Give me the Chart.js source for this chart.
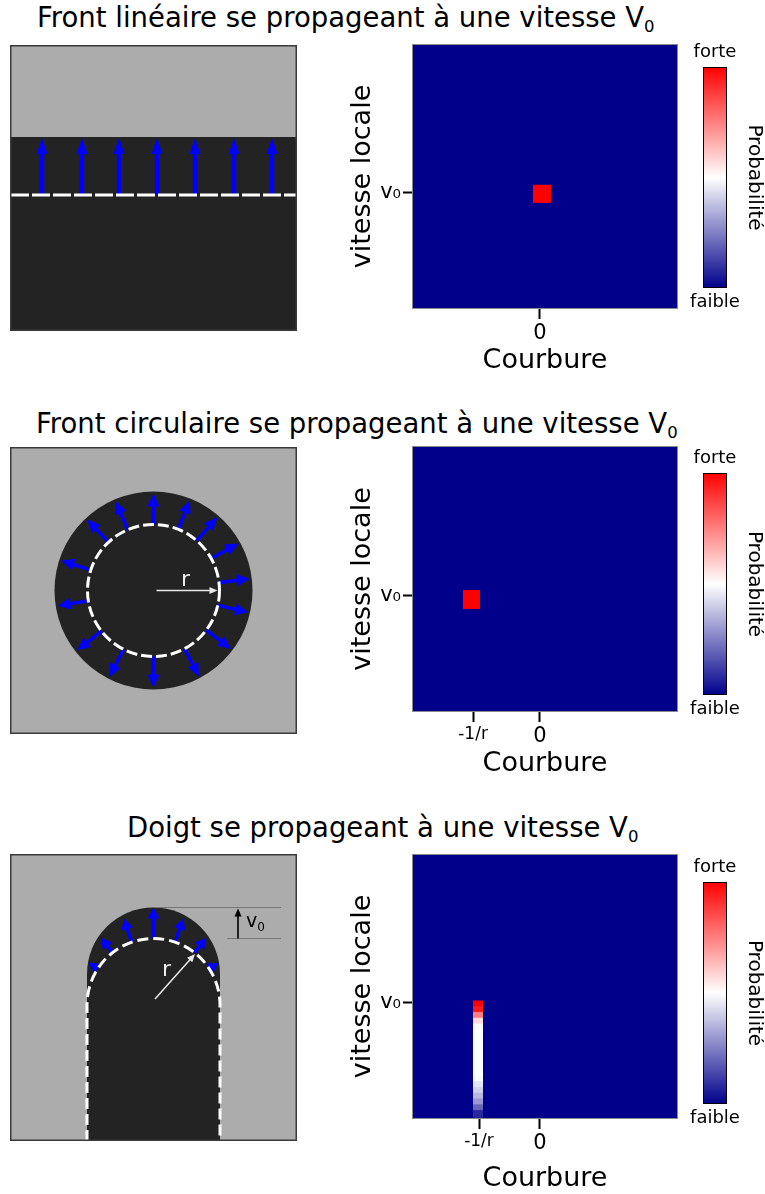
<!DOCTYPE html>
<html><head><meta charset="utf-8">
<script src="https://cdn.jsdelivr.net/npm/chart.js@4.4.0/dist/chart.umd.min.js"></script>
<style>
html,body{margin:0;padding:0;background:#fff;}
body{width:765px;height:1194px;overflow:hidden;position:relative;font-family:'DejaVu Sans',sans-serif;}
canvas{position:absolute;}
.t{position:absolute;font-size:27.5px;line-height:32px;white-space:nowrap;color:#000;}
.t sub{font-size:16.5px;vertical-align:-5px;line-height:0;}
.lab{position:absolute;white-space:nowrap;line-height:1;}
.lab sub{font-size:12px;vertical-align:-4px;line-height:0;}
</style></head><body>
<div class="t" style="left:37px;top:1px">Front linéaire se propageant à une vitesse V<sub>0</sub></div>
<div class="t" style="left:36px;top:407px">Front circulaire se propageant à une vitesse V<sub>0</sub></div>
<div class="t" style="left:127px;top:811px">Doigt se propageant à une vitesse V<sub>0</sub></div>

<canvas id="s1" width="287" height="286" style="left:10px;top:45px;width:287px;height:286px"></canvas>
<canvas id="s2" width="287" height="287" style="left:10px;top:447px;width:287px;height:287px"></canvas>
<canvas id="s3" width="287" height="287" style="left:10px;top:854px;width:287px;height:287px"></canvas>

<canvas id="h1" width="340" height="340" style="left:340px;top:40px;width:340px;height:340px"></canvas>
<canvas id="h2" width="340" height="340" style="left:340px;top:442px;width:340px;height:340px"></canvas>
<canvas id="h3" width="340" height="344" style="left:340px;top:850px;width:340px;height:344px"></canvas>

<canvas id="c1" width="84" height="276" style="left:680px;top:40px;width:84px;height:276px"></canvas>
<canvas id="c2" width="84" height="277" style="left:680px;top:446px;width:84px;height:277px"></canvas>
<canvas id="c3" width="84" height="277" style="left:680px;top:855px;width:84px;height:277px"></canvas>

<div class="lab" style="left:181px;top:568px;font-size:22px;color:#eee">r</div>
<div class="lab" style="left:162px;top:958px;font-size:22px;color:#eee">r</div>
<div class="lab" style="left:246px;top:911px;font-size:19px;color:#000">v<sub>0</sub></div>

<script>
// ---------- data ----------
const curvatureRange = [-1, 1.08];
const speedRange = [0, 2.28];
const speedTicks = [1];
const speedTickLabels = ['v₀'];

// Row 1 : linear front
const r1CurvTicks = [0];
const r1CurvTickLabels = ['0'];
const r1CellCurv = [0.016];
const r1CellLow = [0.92];
const r1CellHigh = [1.06];
const r1CellProb = [1.0];
const r1CurvBin = 0.142;

// Row 2 : circular front
const r2CurvTicks = [-0.527, 0];
const r2CurvTickLabels = ['-1/r', '0'];
const r2CellCurv = [-0.539];
const r2CellLow = [0.89];
const r2CellHigh = [1.036];
const r2CellProb = [1.0];
const r2CurvBin = 0.134;

// Row 3 : finger
const r3CurvTicks = [-0.48, 0];
const r3CurvTickLabels = ['-1/r', '0'];
const r3CellCurv = [-0.488,-0.488,-0.488,-0.488,-0.488,-0.488,-0.488,-0.488,-0.488,-0.488,
                    -0.488,-0.488,-0.488,-0.488,-0.488,-0.488,-0.488,-0.488,-0.488,-0.488];
const r3CellLow  = [0.96,0.91,0.86,0.81,0.76,0.71,0.66,0.61,0.56,0.51,0.46,0.41,0.36,0.31,0.26,0.21,0.16,0.11,0.06,0.01];
const r3CellHigh = [1.01,0.96,0.91,0.86,0.81,0.76,0.71,0.66,0.61,0.56,0.51,0.46,0.41,0.36,0.31,0.26,0.21,0.16,0.11,0.06];
const r3CellProb = [1.0,0.95,0.75,0.57,0.51,0.5,0.5,0.5,0.5,0.5,0.5,0.5,0.5,0.49,0.45,0.41,0.36,0.30,0.20,0.08];
const r3CurvBin = 0.079;

const colorbarStops = [0, 0.5, 1];

// schematic geometry (sketch units)
const lin = {interfaceY: 92, frontY: 150, tipY: 93, arrowX: [32, 72, 109, 147, 185, 224, 262]};
const circ = {cx: 143.5, cy: 143.5, outerR: 99, frontR: 66, tipR: 97,
  arrowAngles: [90, 68, 49, 29, 7, -13, -37, -62, -90, -117, -142, -171, 162, 133, 113]};
const fing = {cx: 143.5, halfW: 66.5, tipCy: 120, frontCy: 151,
  arrowAngles: [33, 52, 71, 90, 109, 128, 147], arrowLen: [11, 19, 25, 31, 25, 19, 11]};

// ---------- helpers ----------
const NAVY = [0, 0, 139], WHITE = [255, 255, 255], RED = [255, 0, 0];
function cmap(p) {
  const lo = p < 0.5, a = lo ? NAVY : WHITE, b = lo ? WHITE : RED, t = lo ? p / 0.5 : (p - 0.5) / 0.5;
  return 'rgb(' + a.map((v, i) => Math.round(v + (b[i] - v) * t)).join(',') + ')';
}
const FAM = "'DejaVu Sans', sans-serif";
Chart.defaults.font.family = FAM;
Chart.defaults.color = '#000';
const INFL = 1;

const noPad = s => { s.paddingTop = 0; s.paddingBottom = 0; s.paddingLeft = 0; s.paddingRight = 0; };

const heatFrame = {
  id: 'heatFrame',
  beforeDatasetsDraw(chart) {
    const {ctx, chartArea: a} = chart;
    ctx.save(); ctx.fillStyle = cmap(0); ctx.fillRect(a.left, a.top, a.width, a.height); ctx.restore();
  },
  afterDatasetsDraw(chart) {
    const {ctx, chartArea: a} = chart;
    ctx.save(); ctx.strokeStyle = '#8a8a8a'; ctx.lineWidth = 1;
    ctx.strokeRect(Math.round(a.left) - 0.5, Math.round(a.top) - 0.5, Math.round(a.width) + 1, Math.round(a.height) + 1);
    ctx.restore();
  }
};

function makeHeat(id, d, lay) {
  const pts = d.curv.map((c, i) => ({x: c, y: [d.low[i], d.high[i]]}));
  return new Chart(document.getElementById(id), {
    type: 'bar',
    data: {datasets: [{
      data: pts,
      backgroundColor: d.prob.map(cmap),
      borderWidth: 0,
      inflateAmount: INFL,
      grouped: true,
      barThickness: (c) => { const s = c.chart.scales.x; return Math.abs(s.getPixelForValue(curvatureRange[0] + d.bin) - s.getPixelForValue(curvatureRange[0])) - 2 * INFL; }
    }]},
    options: {
      responsive: false, animation: false, devicePixelRatio: 1,
      layout: {padding: {top: 5, right: 3, left: 0, bottom: 0}},
      plugins: {legend: {display: false}, tooltip: {enabled: false}},
      scales: {
        x: {
          type: 'linear', position: 'bottom', min: curvatureRange[0], max: curvatureRange[1], offset: false,
          afterBuildTicks: s => { s.ticks = d.xTicks.map(v => ({value: v})); },
          afterFit: s => { s.height = lay.xh; noPad(s); },
          ticks: {
            callback: (v, i) => d.xLabels[i], padding: 4, autoSkip: false, maxRotation: 0, color: '#000',
            font: c => ({family: FAM, size: (c.tick && c.tick.label && String(c.tick.label).length > 1) ? 17 : 21, lineHeight: 1})
          },
          grid: {drawOnChartArea: false, drawTicks: true, tickLength: 11, tickColor: '#000', tickWidth: 2, offset: false},
          border: {display: false},
          title: {display: true, text: 'Courbure', color: '#000', font: {family: FAM, size: 27, lineHeight: 1}, padding: {top: 0, bottom: lay.xtp}}
        },
        y: {
          type: 'linear', position: 'left', min: speedRange[0], max: speedRange[1],
          afterBuildTicks: s => { s.ticks = speedTicks.map(v => ({value: v})); },
          afterFit: s => { s.width = 73; noPad(s); },
          ticks: {callback: (v, i) => speedTickLabels[i], padding: 2, autoSkip: false, color: '#000', font: {family: FAM, size: 21, lineHeight: 1}},
          grid: {drawOnChartArea: false, drawTicks: true, tickLength: 10, tickColor: '#000', tickWidth: 2},
          border: {display: false},
          title: {display: true, text: 'vitesse locale', color: '#000', font: {family: FAM, size: 27, lineHeight: 1}, padding: {top: 9, bottom: 0}}
        }
      }
    },
    plugins: [heatFrame]
  });
}

function makeBar(id) {
  return new Chart(document.getElementById(id), {
    type: 'bar',
    data: {labels: [''], datasets: [{
      data: [[0, 1]],
      backgroundColor: c => {
        const {ctx, chartArea: a} = c.chart;
        if (!a) return cmap(0.5);
        const g = ctx.createLinearGradient(0, a.bottom, 0, a.top);
        colorbarStops.forEach(p => g.addColorStop(p, cmap(p)));
        return g;
      },
      borderColor: '#000', borderWidth: 1, borderSkipped: false, barPercentage: 0.4, categoryPercentage: 1
    }]},
    options: {
      responsive: false, animation: false, devicePixelRatio: 1,
      layout: {padding: {left: 5, right: 0, top: 0, bottom: 0}},
      plugins: {legend: {display: false}, tooltip: {enabled: false}},
      scales: {
        x: {position: 'bottom', ticks: {display: false}, grid: {display: false}, border: {display: false},
            afterFit: s => { s.height = 28; noPad(s); },
            title: {display: true, text: 'faible', color: '#000', font: {family: FAM, size: 18, lineHeight: 1}, padding: {top: 0, bottom: 4.4}}},
        x2: {type: 'category', labels: [''], position: 'top', ticks: {display: false}, grid: {display: false}, border: {display: false},
            afterFit: s => { s.height = 27; noPad(s); },
            title: {display: true, text: 'forte', color: '#000', font: {family: FAM, size: 18, lineHeight: 1}, padding: {top: 3, bottom: 0}}},
        y: {position: 'right', min: 0, max: 1, ticks: {display: false}, grid: {display: false}, border: {display: false},
            afterFit: s => { s.width = 19; noPad(s); },
            title: {display: true, text: 'Probabilité', color: '#000', font: {family: FAM, size: 20, lineHeight: 1}, padding: {top: 0, bottom: 0}}}
      }
    }
  });
}

// ---------- schematics ----------
const GRAY = '#acacac', DARK = '#232323', BLUE = '#0000ff', EDGE = '#3a3a3a';
function arrow(ctx, x1, y1, x2, y2, color, lw, hl, hw) {
  const dx = x2 - x1, dy = y2 - y1, L = Math.hypot(dx, dy), ux = dx / L, uy = dy / L;
  const h = Math.min(hl, L), bx = x2 - ux * h, by = y2 - uy * h;
  ctx.setLineDash([]); ctx.strokeStyle = color; ctx.fillStyle = color; ctx.lineWidth = lw;
  if (L > h) { ctx.beginPath(); ctx.moveTo(x1, y1); ctx.lineTo(bx + ux * 1, by + uy * 1); ctx.stroke(); }
  ctx.beginPath(); ctx.moveTo(x2, y2); ctx.lineTo(bx - uy * hw, by + ux * hw); ctx.lineTo(bx + uy * hw, by - ux * hw); ctx.closePath(); ctx.fill();
}
function makeSketch(id, draw) {
  const el = document.getElementById(id);
  const W = el.width, H = el.height;
  return new Chart(el, {
    type: 'scatter', data: {datasets: []},
    options: {
      responsive: false, animation: false, devicePixelRatio: 1, layout: {padding: 0},
      plugins: {legend: {display: false}, tooltip: {enabled: false}},
      scales: {x: {type: 'linear', display: false, min: 0, max: W}, y: {type: 'linear', display: false, min: 0, max: H, reverse: true}}
    },
    plugins: [{id: 'sketch', beforeDatasetsDraw(chart) {
      const sx = chart.scales.x, sy = chart.scales.y;
      const X = v => sx.getPixelForValue(v), Y = v => sy.getPixelForValue(v), R = r => X(r) - X(0);
      const ctx = chart.ctx; ctx.save(); draw(ctx, X, Y, R, W, H);
      ctx.setLineDash([]); ctx.strokeStyle = EDGE; ctx.lineWidth = 1.5;
      ctx.strokeRect(X(0) + 0.75, Y(0) + 0.75, X(W) - X(0) - 1.5, Y(H) - Y(0) - 1.5);
      ctx.restore();
    }}]
  });
}

makeSketch('s1', (ctx, X, Y, R, W, H) => {
  ctx.fillStyle = GRAY; ctx.fillRect(X(0), Y(0), X(W) - X(0), Y(H) - Y(0));
  ctx.fillStyle = DARK; ctx.fillRect(X(0), Y(lin.interfaceY), X(W) - X(0), Y(H) - Y(lin.interfaceY));
  lin.arrowX.forEach(x => arrow(ctx, X(x), Y(lin.frontY), X(x), Y(lin.tipY), BLUE, 4.5, 16, 5.5));
  ctx.setLineDash([18, 3]); ctx.lineDashOffset = -1; ctx.strokeStyle = '#fff'; ctx.lineWidth = 3;
  ctx.beginPath(); ctx.moveTo(X(0), Y(lin.frontY)); ctx.lineTo(X(W), Y(lin.frontY)); ctx.stroke();
});

makeSketch('s2', (ctx, X, Y, R, W, H) => {
  ctx.fillStyle = GRAY; ctx.fillRect(X(0), Y(0), X(W) - X(0), Y(H) - Y(0));
  ctx.fillStyle = DARK; ctx.beginPath(); ctx.arc(X(circ.cx), Y(circ.cy), R(circ.outerR), 0, Math.PI * 2); ctx.fill();
  circ.arrowAngles.forEach(a => {
    const t = a * Math.PI / 180, c = Math.cos(t), s = Math.sin(t);
    arrow(ctx, X(circ.cx + circ.frontR * c), Y(circ.cy - circ.frontR * s), X(circ.cx + circ.tipR * c), Y(circ.cy - circ.tipR * s), BLUE, 3.5, 13, 6);
  });
  ctx.setLineDash([11, 4]); ctx.strokeStyle = '#fff'; ctx.lineWidth = 3;
  ctx.beginPath(); ctx.arc(X(circ.cx), Y(circ.cy), R(circ.frontR), 0, Math.PI * 2); ctx.stroke();
  arrow(ctx, X(circ.cx + 3), Y(circ.cy), X(circ.cx + circ.frontR - 2), Y(circ.cy), '#e8e8e8', 1.5, 8, 3.5);
});

makeSketch('s3', (ctx, X, Y, R, W, H) => {
  const L = fing.cx - fing.halfW, Rt = fing.cx + fing.halfW;
  ctx.fillStyle = GRAY; ctx.fillRect(X(0), Y(0), X(W) - X(0), Y(H) - Y(0));
  ctx.fillStyle = DARK; ctx.beginPath();
  ctx.moveTo(X(L), Y(H)); ctx.lineTo(X(L), Y(fing.tipCy));
  ctx.arc(X(fing.cx), Y(fing.tipCy), R(fing.halfW), Math.PI, 0); ctx.lineTo(X(Rt), Y(H)); ctx.closePath(); ctx.fill();
  // v0 marker
  const top = fing.tipCy - fing.halfW, bot = fing.frontCy - fing.halfW;
  ctx.strokeStyle = '#777'; ctx.lineWidth = 1.2; ctx.setLineDash([]);
  ctx.beginPath(); ctx.moveTo(X(fing.cx), Y(top)); ctx.lineTo(X(271), Y(top));
  ctx.moveTo(X(217), Y(bot)); ctx.lineTo(X(271), Y(bot)); ctx.stroke();
  arrow(ctx, X(228), Y(bot), X(228), Y(top + 1), '#000', 1.6, 8, 3.5);
  // local speed arrows
  fing.arrowAngles.forEach((a, i) => {
    const t = a * Math.PI / 180, c = Math.cos(t), s = Math.sin(t);
    const x1 = fing.cx + fing.halfW * c, y1 = fing.frontCy - fing.halfW * s;
    const len = fing.arrowLen[i];
    arrow(ctx, X(x1), Y(y1), X(x1 + len * c), Y(y1 - len * s), BLUE, 3.5, 11, 6);
  });
  ctx.setLineDash([11, 5]); ctx.strokeStyle = '#fff'; ctx.lineWidth = 3;
  ctx.beginPath(); ctx.moveTo(X(L), Y(H)); ctx.lineTo(X(L), Y(fing.frontCy));
  ctx.arc(X(fing.cx), Y(fing.frontCy), R(fing.halfW), Math.PI, 0); ctx.lineTo(X(Rt), Y(H)); ctx.stroke();
  arrow(ctx, X(145), Y(145), X(185), Y(100), '#e8e8e8', 1.5, 8, 3.5);
});

// ---------- heatmaps & colour bars ----------
makeHeat('h1', {curv: r1CellCurv, low: r1CellLow, high: r1CellHigh, prob: r1CellProb, bin: r1CurvBin, xTicks: r1CurvTicks, xLabels: r1CurvTickLabels}, {xh: 72, xtp: 6});
makeHeat('h2', {curv: r2CellCurv, low: r2CellLow, high: r2CellHigh, prob: r2CellProb, bin: r2CurvBin, xTicks: r2CurvTicks, xLabels: r2CurvTickLabels}, {xh: 71, xtp: 5});
makeHeat('h3', {curv: r3CellCurv, low: r3CellLow, high: r3CellHigh, prob: r3CellProb, bin: r3CurvBin, xTicks: r3CurvTicks, xLabels: r3CurvTickLabels}, {xh: 76, xtp: 2});
makeBar('c1'); makeBar('c2'); makeBar('c3');
</script>
</body></html>
